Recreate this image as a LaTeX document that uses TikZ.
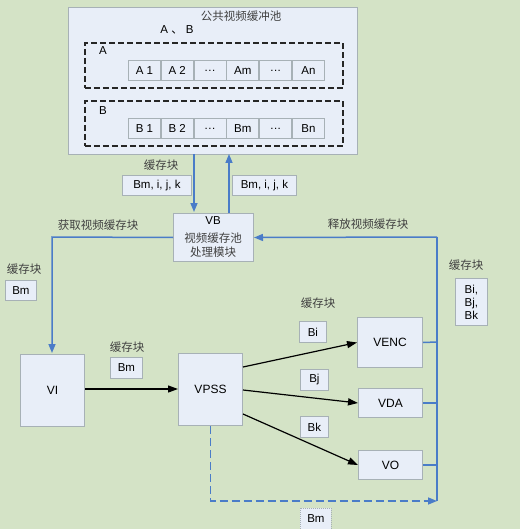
\documentclass[tikz,border=0pt]{standalone}
\usepackage{fontspec}
\setmainfont{Liberation Sans}
\newfontfamily\cjk{Noto Sans CJK SC}
\usetikzlibrary{arrows.meta}
\definecolor{bgc}{HTML}{D4E3C6}
\definecolor{boxf}{HTML}{E8EEF8}
\definecolor{boxd}{HTML}{A7B1B6}
\definecolor{bline}{HTML}{4A7CC8}
\definecolor{cjkc}{HTML}{404040}
\tikzset{
  box/.style={draw=boxd, fill=boxf, line width=1pt, inner sep=0pt, font=\fontsize{12}{14}\selectfont},
  cell/.style={draw=boxd, fill=boxf, line width=0.8pt, minimum width=32pt, minimum height=20pt, inner sep=0pt, font=\fontsize{11.5}{13}\selectfont},
  lbl/.style={draw=boxd, fill=boxf, line width=0.8pt, inner sep=0pt, font=\fontsize{11.5}{13}\selectfont, align=center},
  cj/.style={font=\cjk\fontsize{11.5}{13}\selectfont, text=cjkc, inner sep=0pt},
  lt/.style={font=\fontsize{11.5}{13}\selectfont, inner sep=0pt},
  bl/.style={draw=bline, line width=1.5pt},
  bar/.style={-{Triangle[length=9pt,width=7pt]}},
  kar/.style={draw=black, line width=1.2pt, -{Triangle[length=10pt,width=7pt]}},
  dbox/.style={draw=black!85, line width=1.8pt, dash pattern=on 6pt off 3pt}
}
\begin{document}
\begin{tikzpicture}[x=1pt,y=-1pt]
\fill[bgc] (0,0) rectangle (520,529);
\useasboundingbox (0,0) rectangle (520,529);
% pool
\node[box, anchor=north west, minimum width=289pt, minimum height=147pt] (pool) at (68,7) {};
\node[cj] (pooltitle) at (241,16) {公共视频缓冲池};
\node[lt] (ab) at (177,30) {A {\cjk 、} B};
\node[dbox, anchor=north west, minimum width=258pt, minimum height=45pt, inner sep=0pt] (ga) at (84,42) {};
\node[dbox, anchor=north west, minimum width=258pt, minimum height=45pt, inner sep=0pt] (gb) at (84,100) {};
\node[lt] (la) at (103,51) {A};
\node[lt] (lb) at (103,111) {B};
\node[cell, anchor=north west] (a1) at (128,60) {A 1};
\node[cell, anchor=west] (a2) at (a1.east) {A 2};
\node[cell, anchor=west] (a3) at (a2.east) {.\kern0.5pt.\kern0.5pt.};
\node[cell, anchor=west] (a4) at (a3.east) {Am};
\node[cell, anchor=west] (a5) at (a4.east) {.\kern0.5pt.\kern0.5pt.};
\node[cell, anchor=west] (a6) at (a5.east) {An};
\node[cell, anchor=north west] (b1) at (128,118) {B 1};
\node[cell, anchor=west] (b2) at (b1.east) {B 2};
\node[cell, anchor=west] (b3) at (b2.east) {.\kern0.5pt.\kern0.5pt.};
\node[cell, anchor=west] (b4) at (b3.east) {Bm};
\node[cell, anchor=west] (b5) at (b4.east) {.\kern0.5pt.\kern0.5pt.};
\node[cell, anchor=west] (b6) at (b5.east) {Bn};
% VB
\node[box, anchor=north west, minimum width=80pt, minimum height=48pt] (vb) at (173,213) {};
\node[lt] (vbt) at (213,221) {VB};
\node[cj, align=center] (vbc) at (213,245) {视频缓存池\\[1.5pt]处理模块};
% labels near pool arrows
\node[cj] (c1) at (161,165) {缓存块};
\node[lbl, anchor=north west, minimum width=69pt, minimum height=20pt] (bm1) at (122,175) {Bm, i, j, k};
\node[lbl, anchor=north west, minimum width=64pt, minimum height=20pt] (bm2) at (232,175) {Bm, i, j, k};
\coordinate (pd) at (194,154);
\coordinate (pu) at (229,154);
\draw[bl, bar] (pd) -- (194,212);
\draw[bl, bar] (229,213) -- (pu);
% left path
\node[cj] (get) at (98,225) {获取视频缓存块};
\node[cj] (c2) at (24,269) {缓存块};
\node[lbl, anchor=north west, minimum width=31pt, minimum height=20pt] (bm3) at (5,280) {Bm};
\node[box, anchor=north west, minimum width=64pt, minimum height=72pt] (vi) at (20,354) {VI};
\draw[bl, bar] (vb.west) -- (52,237) -- (52,353);
% VPSS
\node[box, anchor=north west, minimum width=64pt, minimum height=72pt] (vpss) at (178,353) {VPSS};
\node[cj] (c3) at (127,347) {缓存块};
\node[lbl, anchor=north west, minimum width=32pt, minimum height=21pt] (bm4) at (110,357) {Bm};
\draw[kar] (vi.east |- 0,389) -- (vpss.west |- 0,389);
% outputs
\node[box, anchor=north west, minimum width=65pt, minimum height=50pt] (venc) at (357,317) {VENC};
\node[box, anchor=north west, minimum width=64pt, minimum height=29pt] (vda) at (358,388) {VDA};
\node[box, anchor=north west, minimum width=64pt, minimum height=29pt] (vo) at (358,450) {VO};
\node[cj] (c4) at (318,303) {缓存块};
\node[lbl, anchor=north west, minimum width=27pt, minimum height=21pt] (bi) at (299,321) {Bi};
\node[lbl, anchor=north west, minimum width=28pt, minimum height=21pt] (bj) at (300,369) {Bj};
\node[lbl, anchor=north west, minimum width=28pt, minimum height=21pt] (bk) at (300,416) {Bk};
\draw[kar] (243,367) -- (venc.west);
\draw[kar] (243,390) -- (vda.west);
\draw[kar] (243,414) -- (vo.west);
% right path
\coordinate (rt) at (437,237);
\coordinate (rb) at (437,501);
\draw[bl] (venc.east) -- (437,342);
\draw[bl] (vda.east) -- (437,403);
\draw[bl] (vo.east) -- (437,465);
\draw[bl] (rb) -- (rt);
\draw[bl, bar] (rt) -- (vb.east);
\node[cj] (rel) at (368,224) {释放视频缓存块};
\node[cj] (c5) at (466,265) {缓存块};
\node[lbl, anchor=north west, minimum width=32pt, minimum height=47pt, font=\fontsize{11.5}{13}\selectfont] (bijk) at (455,278) {Bi,\\Bj,\\Bk};
% dashed return
\draw[bl, dash pattern=on 8pt off 4pt, bar] (vpss.south) |- (rb);
\node[lbl, anchor=north west, minimum width=31pt, minimum height=24pt, dash pattern=on 1pt off 1pt] (bm5) at (300,508) {\raisebox{3pt}{Bm}};
\end{tikzpicture}
\end{document}
